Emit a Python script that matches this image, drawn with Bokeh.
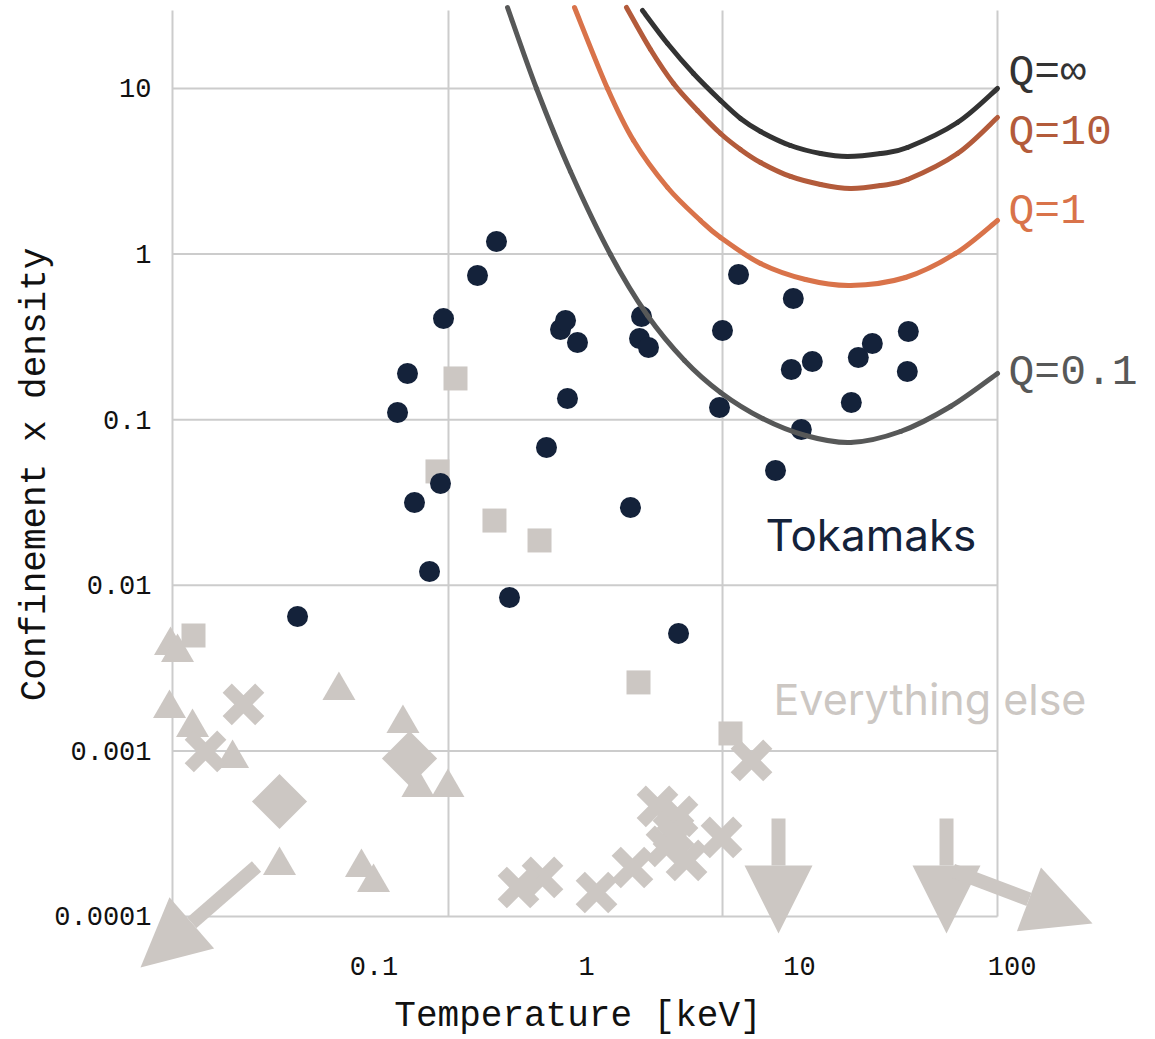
import math
from bokeh.plotting import figure
from bokeh.models import Range1d, FixedTicker, Arrow, NormalHead, ColumnDataSource
from bokeh.core.properties import value
from bokeh.embed import file_html
from bokeh.resources import INLINE

# ---------------- data ----------------
# Tokamaks: temperature [keV], confinement x density
tok_T = [0.0437, 0.129, 0.1437, 0.155, 0.1824, 0.2054, 0.2122, 0.3066, 0.3765, 0.4335,
         0.647, 0.753, 0.795, 0.812, 0.905, 1.606, 1.810, 1.771, 1.952, 2.702,
         4.211, 4.348, 5.173, 7.72, 9.16, 9.36, 10.21, 11.50, 17.54, 18.92,
         22.02, 32.16, 32.51]
tok_v = [0.00648, 0.1105, 0.190, 0.0316, 0.01212, 0.0412, 0.408, 0.743, 1.191, 0.00844,
         0.0679, 0.3505, 0.397, 0.1343, 0.2925, 0.0295, 0.420, 0.309, 0.273, 0.00512,
         0.1185, 0.3456, 0.753, 0.0493, 0.2010, 0.5393, 0.0873, 0.2246, 0.1270, 0.2375,
         0.2885, 0.1955, 0.3409]

# Everything else
sq_T = [0.01417, 0.2416, 0.1988, 0.3684, 0.600, 1.752, 4.742]
sq_v = [0.00498, 0.1774, 0.0487, 0.0246, 0.01865, 0.00259, 0.001274]

tri_T = [0.01105, 0.01192, 0.01093, 0.01402, 0.02163, 0.0684, 0.1368, 0.1609, 0.2226,
         0.03595, 0.0873, 0.0995]
tri_v = [0.00433, 0.00393, 0.001803, 0.001384, 0.000900, 0.002316, 0.001464, 0.000601,
         0.000601, 0.000203, 0.0001976, 0.0001604]

dia_T = [0.03595, 0.1469]
dia_v = [0.000495, 0.000900]

x_T = [5.955, 2.152, 2.673, 2.559, 2.372, 2.946, 4.302, 1.641, 1.112, 0.6197, 0.4779,
       0.02434, 0.01614]
x_v = [0.000875, 0.000462, 0.000402, 0.000322, 0.000265, 0.000218, 0.0003, 0.0001976,
       0.0001396, 0.000172, 0.0001496, 0.001907, 0.000992]

# Off-scale points (arrows): start -> tip
arr_T0 = [0.02803, 7.975, 49.16, 52.46]
arr_v0 = [0.0002004, 0.000391, 0.000391, 0.0001896]
arr_T1 = [0.007983, 7.975, 49.16, 238.8]
arr_v1 = [4.92e-5, 7.89e-5, 7.89e-5, 9.07e-5]

# Lawson curves for different Q
q_inf_T = [1.8295, 2.3984, 3.1777, 4.2570, 5.2854, 6.5634, 9.0811, 12.576, 16.834, 24.062, 32.228, 55.38, 85.36]
q_inf_v = [29.58, 18.70, 12.321, 8.4647, 6.5895, 5.4993, 4.5270, 4.0508, 3.8854, 4.0508, 4.4029, 6.2333, 10.0]

q_10_T = [1.5384, 1.9951, 2.5591, 3.3183, 4.2570, 5.2854, 6.5634, 9.0811, 12.576, 17.389, 24.062, 32.228, 55.38, 85.36]
q_10_v = [30.84, 17.203, 10.720, 7.3637, 5.3488, 4.2823, 3.5735, 2.9424, 2.6321, 2.4896, 2.5957, 2.8221, 4.0508, 6.6814]

q_1_T = [0.8763, 1.2525, 1.6596, 2.3984, 3.4279, 4.2570, 6.5634, 10.684, 17.389, 31.537, 54.19, 85.36]
q_1_v = [30.84, 10.0, 4.8529, 2.5245, 1.5955, 1.2594, 0.8773, 0.7025, 0.6462, 0.7223, 1.0084, 1.5955]

q_01_T = [0.4243, 0.5807, 0.8390, 1.2938, 1.9313, 2.8828, 4.2570, 6.7072, 10.684, 17.389, 29.878, 51.33, 85.36]
q_01_v = [30.84, 10.0, 3.1535, 0.99445, 0.42576, 0.22778, 0.14601, 0.10168, 0.08028, 0.07284, 0.08487, 0.12014, 0.19011]

q_labels = ["Q=\u221e", "Q=10", "Q=1", "Q=0.1"]
q_colors = ["#333333", "#b35b3b", "#d9734a", "#575858"]

x_ticks = [0.1, 1, 10, 100]
x_tick_labels = ["0.1", "1", "10", "100"]
y_ticks = [0.0001, 0.001, 0.01, 0.1, 1, 10]
y_tick_labels = ["0.0001", "0.001", "0.01", "0.1", "1", "10"]

# ---------------- styling ----------------
NAVY = "#14223a"
GRAY = "#ccc7c3"
GRID = "#cccccc"
MONO = "Liberation Mono"

p = figure(width=1155, height=1039, x_axis_type="log", y_axis_type="log",
           x_range=Range1d(0.0017538, 472.2), y_range=Range1d(1.8076e-5, 33.99),
           output_backend="svg", toolbar_location=None, min_border=0,
           background_fill_color="white", border_fill_color="white")
p.outline_line_color = None
p.xgrid.visible = False
p.ygrid.visible = False

# grid (evenly spaced verticals, decade horizontals)
x_grid = [0.011288, 0.22397, 4.3502, 85.36]
grid_top = 29.58
p.segment(x0=[x_grid[0]] * len(y_ticks), x1=[x_grid[-1]] * len(y_ticks),
          y0=y_ticks, y1=y_ticks, line_color=GRID, line_width=2)
p.segment(x0=x_grid, x1=x_grid, y0=[y_ticks[0]] * len(x_grid), y1=[grid_top] * len(x_grid),
          line_color=GRID, line_width=2)

# everything else
p.scatter(tri_T, tri_v, marker="triangle", size=33, fill_color=GRAY, line_color=None)
p.scatter(dia_T, dia_v, marker="square", size=39, angle=0.785398, fill_color=GRAY, line_color=None)
p.scatter(sq_T, sq_v, marker="square", size=24, fill_color=GRAY, line_color=None)
p.scatter(x_T, x_v, marker="x", size=46, line_color=GRAY, line_width=13)

arr_src = ColumnDataSource(dict(x0=arr_T0, y0=arr_v0, x1=arr_T1, y1=arr_v1))
p.add_layout(Arrow(source=arr_src, x_start="x0", y_start="y0", x_end="x1", y_end="y1",
                   line_color=GRAY, line_width=14,
                   end=NormalHead(size=68, fill_color=GRAY, line_color=GRAY, line_width=0)))

# tokamaks
p.scatter(tok_T, tok_v, marker="circle", size=21, fill_color=NAVY, line_color=None)


# Q curves: smooth (Catmull-Rom in log-log space) through the read points
def smooth(T, v):
    lx = [math.log10(t) for t in T]
    ly = [math.log10(a) for a in v]
    n = len(lx)
    d = dict(x0=[], y0=[], x1=[], y1=[], cx0=[], cy0=[], cx1=[], cy1=[])
    for i in range(n - 1):
        a = max(i - 1, 0)
        b = min(i + 2, n - 1)
        d["x0"].append(T[i]); d["y0"].append(v[i])
        d["x1"].append(T[i + 1]); d["y1"].append(v[i + 1])
        d["cx0"].append(10 ** (lx[i] + (lx[i + 1] - lx[a]) / 6))
        d["cy0"].append(10 ** (ly[i] + (ly[i + 1] - ly[a]) / 6))
        d["cx1"].append(10 ** (lx[i + 1] - (lx[b] - lx[i]) / 6))
        d["cy1"].append(10 ** (ly[i + 1] - (ly[b] - ly[i]) / 6))
    return ColumnDataSource(d)


for T, v, c in [(q_01_T, q_01_v, q_colors[3]), (q_1_T, q_1_v, q_colors[2]),
                (q_10_T, q_10_v, q_colors[1]), (q_inf_T, q_inf_v, q_colors[0])]:
    p.bezier(x0="x0", y0="y0", x1="x1", y1="y1", cx0="cx0", cy0="cy0", cx1="cx1", cy1="cy1",
             source=smooth(T, v), line_color=c, line_width=5, line_cap="round")

# Q labels at right end of curves
p.text(x=[96.2] * 4, y=[12.49, 5.424, 1.808, 0.1928], text=q_labels, text_color=q_colors,
       text_font=value(MONO), text_font_size="43px", text_baseline="middle",
       text_align="left")

# group labels
p.text(x=[6.928], y=[0.02026], text=["Tokamaks"], text_color=NAVY,
       text_font=value("Inter"), text_font_size="44px", text_baseline="middle")
p.text(x=[7.553], y=[0.002044], text=["Everything else"], text_color=GRAY,
       text_font=value("Inter"), text_font_size="43px", text_baseline="middle")

# axes
for ax in (p.xaxis[0], p.yaxis[0]):
    ax.axis_line_color = None
    ax.major_tick_line_color = None
    ax.minor_tick_line_color = None
    ax.major_tick_out = 0
    ax.major_tick_in = 0
    ax.major_label_standoff = 0
    ax.major_label_text_font = MONO
    ax.major_label_text_font_size = "27px"
    ax.major_label_text_color = "#111111"
    ax.axis_label_text_font = MONO
    ax.axis_label_text_font_size = "36px"
    ax.axis_label_text_font_style = "normal"
    ax.axis_label_text_color = "#111111"

p.xaxis.ticker = FixedTicker(ticks=x_ticks)
p.xaxis.major_label_overrides = dict(zip(x_ticks, x_tick_labels))
p.xaxis.fixed_location = 5.654e-5
p.xaxis.axis_label = "Temperature [keV]"
p.xaxis.axis_label_standoff = 17

p.yaxis.ticker = FixedTicker(ticks=y_ticks)
p.yaxis.major_label_overrides = dict(zip(y_ticks, y_tick_labels))
p.yaxis.fixed_location = 0.008995
p.yaxis.bounds = (9e-5, 24.21)
p.yaxis.axis_label = "Confinement x density"
p.yaxis.axis_label_standoff = -5

open("out.html", "w").write(file_html(p, INLINE))
